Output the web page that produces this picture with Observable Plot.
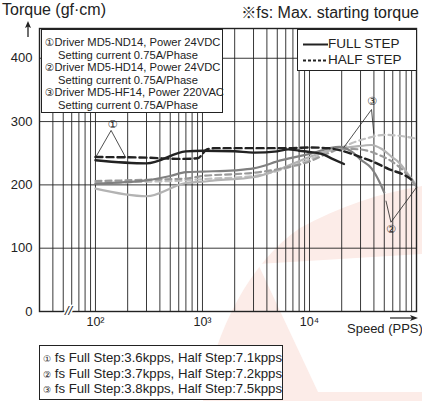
<!DOCTYPE html>
<html><head><meta charset="utf-8">
<script src="https://cdn.jsdelivr.net/npm/d3@7"></script>
<script src="https://cdn.jsdelivr.net/npm/@observablehq/plot@0.6"></script>
<style>
body{margin:0;background:#fff;font-family:"Liberation Sans",Arial,sans-serif;color:#222}
#wrap{position:relative;width:422px;height:401px;overflow:hidden}
#wm{position:absolute;left:0;top:0}
#chart{position:absolute;left:0;top:0}
.t{position:absolute;white-space:nowrap}
.box{position:absolute;background:#fff;border:1.2px solid #222;box-sizing:border-box}
.row{position:absolute;white-space:nowrap}
.cd{font-family:"DejaVu Sans",sans-serif}
</style></head><body>
<div id="wrap">
<svg id="wm" width="422" height="401">
<path d="M203,401 C215,330 250,262 300,228 C340,206 380,193 422,186 L422,401 Z" fill="#fcece8"/>
<path d="M258,264 L422,254 L422,392 L318,392 Z" fill="#fff"/>
</svg>
<div id="chart"></div>
<div class="t" style="left:2px;top:1px;font-size:16px">Torque (gf·cm)</div>
<svg class="t" style="left:23px;top:21px" width="10" height="16">
<line x1="5" y1="4" x2="5" y2="16" stroke="#222" stroke-width="1.3"/>
<path d="M5,0 L2,7 L5,5.5 L8,7 Z" fill="#222"/>
</svg>
<div class="t" style="right:3px;top:1px;font-size:16px"><span style="font-family:'Noto Sans CJK JP',sans-serif;font-size:15px">※</span>fs: Max. starting torque</div>
<div class="box" style="left:41px;top:29px;width:182px;height:84px;font-size:11.2px">
<div class="row" style="left:3px;top:6px"><span class="cd" style="font-size:10.5px">①</span>Driver MD5-ND14, Power 24VDC</div>
<div class="row" style="left:16px;top:18.5px">Setting current 0.75A/Phase</div>
<div class="row" style="left:3px;top:31px"><span class="cd" style="font-size:10.5px">②</span>Driver MD5-HD14, Power 24VDC</div>
<div class="row" style="left:16px;top:43.5px">Setting current 0.75A/Phase</div>
<div class="row" style="left:3px;top:56px"><span class="cd" style="font-size:10.5px">③</span>Driver MD5-HF14, Power 220VAC</div>
<div class="row" style="left:16px;top:68.5px">Setting current 0.75A/Phase</div>
</div>
<div class="box" style="left:297px;top:29px;width:120px;height:42px;font-size:13.5px">
<svg class="row" style="left:4px;top:0" width="26" height="40">
<line x1="1" y1="14.5" x2="26" y2="14.5" stroke="#222" stroke-width="2"/>
<line x1="1" y1="30.5" x2="26" y2="30.5" stroke="#222" stroke-width="2" stroke-dasharray="3,2"/>
</svg>
<div class="row" style="left:30px;top:6px">FULL STEP</div>
<div class="row" style="left:30px;top:22px">HALF STEP</div>
</div>
<div class="t" style="left:347px;top:321px;font-size:13px">Speed (PPS)</div>
<svg class="t" style="left:388px;top:313px" width="32" height="10">
<line x1="2" y1="5" x2="27" y2="5" stroke="#222" stroke-width="1.2"/>
<path d="M30,5 L22,2 L24,5 L22,8 Z" fill="#222"/>
</svg>
<div class="box" style="left:39px;top:345px;width:244px;height:55px;font-size:13.2px">
<div class="row" style="left:3px;top:4px"><span class="cd" style="font-size:9px">①</span> fs Full Step:3.6kpps, Half Step:7.1kpps</div>
<div class="row" style="left:3px;top:19.5px"><span class="cd" style="font-size:9px">②</span> fs Full Step:3.7kpps, Half Step:7.2kpps</div>
<div class="row" style="left:3px;top:35px"><span class="cd" style="font-size:9px">③</span> fs Full Step:3.8kpps, Half Step:7.5kpps</div>
</div>
</div>
<script>
// grid / ticks
const gridX = [40,50,60,70,80,90,100,200,300,400,500,600,700,800,900,1000,2000,3000,4000,5000,6000,7000,8000,9000,10000,20000,30000,40000,50000,60000,70000,80000,90000,100000];
const gridY = [100,200,300,400];
const tickX = [100,1000,10000];
const tickXLabels = ["10²","10³","10⁴"];
const tickY = [0,100,200,300,400];

// ① full / half (black)
const c1FullSpeed = [100,300,700,1000,2000,3000,5000,6300,8000,10000,13000,16000,21000];
const c1FullTorque = [239,234,253,254,253,251,253,256,254,252,249,242,233];
const c1HalfSpeed = [100,300,600,900,1100,1300,3000,6000,10000,15000,20000,30000,40000,55000,80000,95000];
const c1HalfTorque = [244,243,241,242,256,258,258,258,259,258,254,244,236,225,214,205];
// ② full / half (dark grey)
const c2FullSpeed = [100,300,500,700,1000,2000,3000,5500,10000,19000,25000,30000,38000,45000,50000];
const c2FullTorque = [202,207,214,220,221,223,226,239,249,260,252,240,226,205,188];
const c2HalfSpeed = [100,300,700,1000,2000,3000,5500,10000,15000,20000,30000,45000,60000,80000,100000];
const c2HalfTorque = [206,208,210,214,217,219,226,237,250,257,256,247,236,218,196];
// ③ full / half (light grey)
const c3FullSpeed = [100,300,700,1000,1300,3000,5500,10000,19000,25000,38000,47000,59000,68000,85000,95000,100000];
const c3FullTorque = [194,182,203,205,207,212,226,244,258,260,263,257,244,236,215,204,196];
const c3HalfSpeed = [100,300,700,1000,3000,5000,7000,10000,15000,20000,25000,35000,50000,80000,100000];
const c3HalfTorque = [203,205,207,209,214,222,230,240,252,259,266,274,279,276,273];

// annotation callouts
const calloutLabels = ["①","②","③"];
const calloutSpeed = [144,57700,38300];
const calloutTorque = [296,130,332];
const leaderFromSpeed = [140,140,57700,57700,38000,38000];
const leaderFromTorque = [286,286,141,141,319,319];
const leaderToSpeed = [100,192,51800,100000,20900,39900];
const leaderToTorque = [243,243,175,196,259,281];
const breakSpeed = [56];

const rows = (s, t) => s.map((v, i) => ({speed: v, torque: t[i]}));
const lineOpts = (stroke, w, dash) => ({x:"speed", y:"torque", stroke, strokeWidth:w, strokeDasharray:dash, curve:"monotone-x"});
const leaders = leaderFromSpeed.map((v,i)=>({x1:v,y1:leaderFromTorque[i],x2:leaderToSpeed[i],y2:leaderToTorque[i]}));
const callouts = calloutLabels.map((t,i)=>({t,x:calloutSpeed[i],y:calloutTorque[i]}));

const chart = Plot.plot({
  width:422, height:340,
  marginTop:28, marginLeft:39, marginRight:6, marginBottom:29,
  style:{background:"transparent", fontFamily:"'Liberation Sans', Arial, sans-serif", fontSize:"12px", color:"#222"},
  x:{type:"log", domain:[30,100000]},
  y:{domain:[0,447]},
  marks:[
    Plot.ruleX(gridX, {x:d=>d, stroke:"#222", strokeWidth:0.9}),
    Plot.ruleY(gridY, {y:d=>d, stroke:"#222", strokeWidth:0.9}),
    Plot.line(rows(c3HalfSpeed,c3HalfTorque), lineOpts("#c0c0c0",2.2,"6,4")),
    Plot.line(rows(c3FullSpeed,c3FullTorque), lineOpts("#b3b3b3",2.2,null)),
    Plot.line(rows(c2HalfSpeed,c2HalfTorque), lineOpts("#9a9a9a",2.2,"6,4")),
    Plot.line(rows(c2FullSpeed,c2FullTorque), lineOpts("#808080",2.2,null)),
    Plot.line(rows(c1HalfSpeed,c1HalfTorque), lineOpts("#222",2.4,"7,4")),
    Plot.line(rows(c1FullSpeed,c1FullTorque), lineOpts("#222",2.4,null)),
    Plot.link(leaders, {x1:"x1",y1:"y1",x2:"x2",y2:"y2", stroke:"#222", strokeWidth:0.8}),
    Plot.text(callouts, {x:"x", y:"y", text:"t", fontSize:11, fill:"#222", fontFamily:"DejaVu Sans"}),
    Plot.frame({stroke:"#222", strokeWidth:1.4}),
    Plot.text(breakSpeed, {x:d=>d, y:0, text:()=>"//", fontSize:13, fontStyle:"italic", fill:"#222", stroke:"white", strokeWidth:3, dy:-1}),
    Plot.axisX(tickX, {tickSize:0, tickPadding:6, fontSize:12.5, label:null, tickFormat:(d)=>tickXLabels[tickX.indexOf(d)]}),
    Plot.axisY(tickY, {tickSize:0, tickPadding:7, fontSize:13, label:null})
  ]
});
document.getElementById("chart").appendChild(chart);
</script>
</body></html>
